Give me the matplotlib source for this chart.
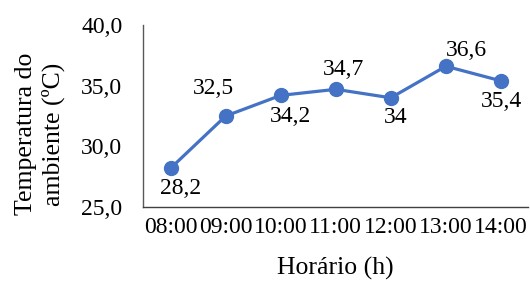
import matplotlib.pyplot as plt

horarios = ['08:00', '09:00', '10:00', '11:00', '12:00', '13:00', '14:00']
temperaturas = [28.2, 32.5, 34.2, 34.7, 34.0, 36.6, 35.4]
rotulos = ['28,2', '32,5', '34,2', '34,7', '34', '36,6', '35,4']
yticks = [25, 30, 35, 40]

plt.rcParams['font.family'] = ['Liberation Serif', 'DejaVu Serif']

fig = plt.figure(figsize=(5.30, 2.84), dpi=100)
ax = fig.add_axes([0.270, 0.271, 0.727, 0.641])

x = range(len(horarios))
ax.plot(x, temperaturas, color='#4472C4', lw=2.3, marker='o', ms=10, clip_on=False)

# data labels: offsets in pixels (dx, dy), roughly where Excel put them
offsets = [(10, -20), (-12, 28), (10, -21), (8, 20), (5, -20), (21, 16), (1, -21)]
for xi, yi, txt, (dx, dy) in zip(x, temperaturas, rotulos, offsets):
    ax.annotate(txt, (xi, yi), xytext=(dx * 0.72, dy * 0.72), textcoords='offset points',
                ha='center', va='center', fontsize=17)

ax.set_xlim(-0.5, len(horarios) - 0.5)
ax.set_ylim(25, 40)
ax.set_xticks(list(x))
ax.set_xticklabels(horarios)
ax.set_yticks(yticks)
ax.set_yticklabels([f'{v:.1f}'.replace('.', ',') for v in yticks])
ax.tick_params(axis='both', length=0, labelsize=17)
ax.tick_params(axis='y', pad=15)
ax.tick_params(axis='x', pad=7)

for s in ['top', 'right']:
    ax.spines[s].set_visible(False)
ax.spines['left'].set_color('#595959')
ax.spines['bottom'].set_color('#404040')
ax.spines['left'].set_linewidth(1.0)
ax.spines['bottom'].set_linewidth(1.0)

ax.set_xlabel('Horário (h)', fontsize=18.5)
ax.xaxis.label.set_va('center')
ax.xaxis.set_label_coords(0.5, -0.335)
ax.set_ylabel('Temperatura do\nambiente (ºC)', fontsize=18.5, linespacing=1.25)
ax.yaxis.label.set_va('center')
ax.yaxis.set_label_coords(-0.268, 0.40)

fig.savefig('out.png', dpi=100)
